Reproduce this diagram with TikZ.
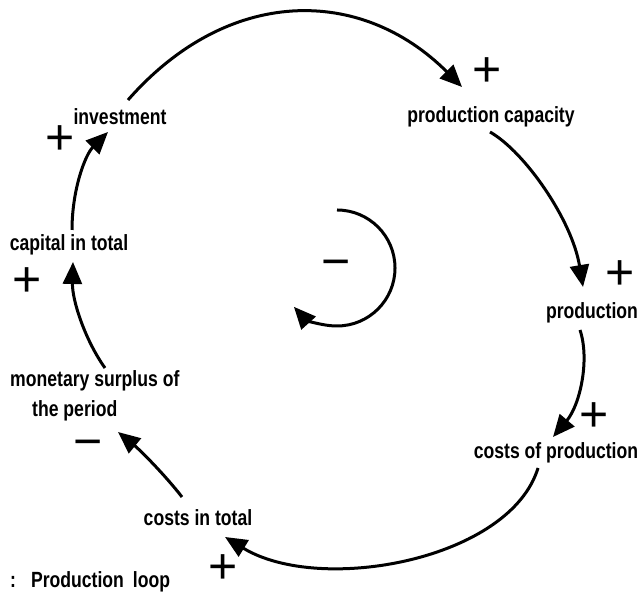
\documentclass[tikz,border=0pt]{standalone}
\usepackage{fontspec}
\setmainfont{Liberation Sans}
\newfontfamily\labfont{Liberation Sans}[FakeStretch=0.8]
\usetikzlibrary{arrows.meta,calc}
\begin{document}
\begin{tikzpicture}[x=1pt,y=1pt,
  lab/.style={font=\labfont\bfseries\fontsize{22}{30}\selectfont, inner sep=0pt},
  sgn/.style={font=\fontsize{50}{50}\selectfont, inner sep=0pt},
  link/.style={line width=3pt, -{Triangle[length=22pt,width=19pt]}}]
\useasboundingbox (0,0) rectangle (639,593);
\fill[white] (0,0) rectangle (639,593);

% variables
\node[lab] (inv)  at (120,476) {investment};
\node[lab] (pc)   at (491,476) {production capacity};
\node[lab] (prod) at (592,280) {production};
\node[lab] (cop)  at (556,140) {costs of production};
\node[lab] (cit)  at (198,75)  {costs in total};
\node[lab, align=left, anchor=west] (msp) at (10,197) {monetary surplus of\\\hspace*{22pt}the period};
\node[lab] (cap)  at (69,348)  {capital in total};
\node[lab, anchor=west] (cap2) at (10,11) {:\hspace{15pt}Production\hspace{9pt}loop};

% causal links
\draw[link] ($(inv.center)+(8,17)$) .. controls (228,607) and (361,607) .. ($(pc.center)+(-29,30)$);
\draw[link] ($(pc.center)+(-1,-15)$) .. controls (525,441) and (572,373) .. ($(prod.center)+(-9,26)$);
\draw[link] ($(prod.center)+(-12,-17)$) .. controls (590,233) and (580,188) .. ($(cop.center)+(-3,16)$);
\draw[link] ($(cop.center)+(-18,-15)$) .. controls (510,33) and (320,-2) .. ($(cit.center)+(27,-19)$);
\draw[link] ($(cit.center)+(-16,21)$) .. controls (165,118) and (140,143) .. ($(msp.west)+(108,-36)$);
\draw[link] ($(msp.west)+(95,28)$) .. controls (85,253) and (72,293) .. ($(cap.center)+(4,-17)$);
\draw[link] ($(cap.center)+(3,15)$) .. controls (72,403) and (85,438) .. ($(inv.center)+(-12,-15)$);

% loop indicator
\node[sgn] (loopsign) at (336,324) {−};
\draw[link] ($(loopsign.center)+(1,59)$) arc[start angle=90, end angle=-138, radius=58];

% polarities
\node[sgn] (p1) at (487,521) {+};
\node[sgn] (p2) at (620,318) {+};
\node[sgn] (p3) at (594,176) {+};
\node[sgn] (p4) at (223,24)  {+};
\node[sgn] (m5) at (88,144)  {−};
\node[sgn] (p6) at (27,311)  {+};
\node[sgn] (p7) at (60,453)  {+};
\end{tikzpicture}
\end{document}
